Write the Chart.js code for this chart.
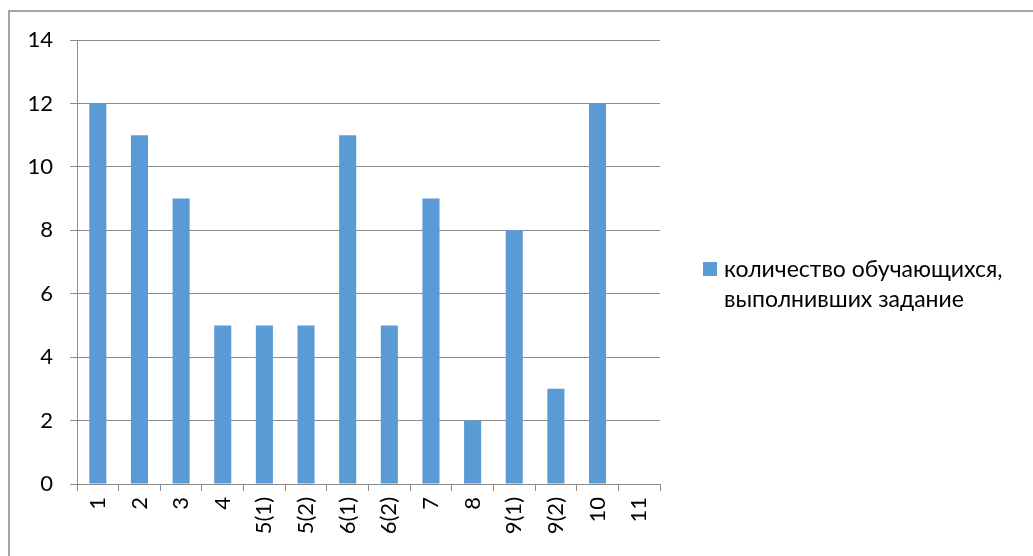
<!DOCTYPE html>
<html>
<head>
<meta charset="utf-8">
<script src="https://cdn.jsdelivr.net/npm/chart.js@4"></script>
<style>
  html, body { margin: 0; padding: 0; background: #fff; }
  #wrap { position: relative; width: 1033px; height: 556px; overflow: hidden; }
  #frame { position: absolute; left: 8px; top: 10px; width: 1100px; height: 600px;
           border: 2px solid #a6a6a6; box-sizing: border-box; }
  #legend { position: absolute; left: 703px; top: 253px; font-family: Lato, sans-serif;
            font-size: 23px; line-height: 30px; color: #000; }
  #legend .box { position: absolute; left: 0; top: 9px; width: 14px; height: 14px; background: #5b9bd5; }
  #legend .txt { margin-left: 21px; }
  canvas { position: absolute; left: 0; top: 0; }
</style>
</head>
<body>
<div id="wrap">
  <div id="frame"></div>
  <canvas id="chart" width="1033" height="556"></canvas>
  <div id="legend"><span class="box"></span><div class="txt">количество обучающихся,<br>выполнивших задание</div></div>
</div>
<script>
const categories = ["1", "2", "3", "4", "5(1)", "5(2)", "6(1)", "6(2)", "7", "8", "9(1)", "9(2)", "10", "11"];
const values = [12, 11, 9, 5, 5, 5, 11, 5, 9, 2, 8, 3, 12, null];
const seriesName = "количество обучающихся, выполнивших задание";
const yTicks = [0, 2, 4, 6, 8, 10, 12, 14];

const gridColor = "#8c8c8c";
const font = { family: "Lato, sans-serif", size: 22 };

const ctx = document.getElementById("chart").getContext("2d");
new Chart(ctx, {
  type: "bar",
  data: {
    labels: categories,
    datasets: [
      {
        label: seriesName,
        data: values,
        backgroundColor: "#5b9bd5",
        borderWidth: 0,
        categoryPercentage: 1,
        barPercentage: 0.41,
      },
    ],
  },
  options: {
    responsive: false,
    animation: false,
    layout: { padding: { left: 0, right: 373, top: 40, bottom: 0 } },
    plugins: { legend: { display: false }, tooltip: { enabled: false } },
    scales: {
      y: {
        min: 0,
        max: 14,
        afterBuildTicks: (scale) => {
          scale.ticks = yTicks.map((v) => ({ value: v }));
        },
        afterFit: (scale) => {
          scale.width = 77;
        },
        ticks: { color: "#000", font: font, padding: 17 },
        grid: { color: gridColor, tickLength: 7, lineWidth: 1 },
        border: { color: gridColor, width: 1 },
      },
      x: {
        afterFit: (scale) => {
          scale.height = 72;
        },
        ticks: { color: "#000", font: font, minRotation: 90, maxRotation: 90, padding: 6, autoSkip: false },
        grid: { drawOnChartArea: false, color: gridColor, tickLength: 7, offset: true },
        border: { color: gridColor, width: 1 },
      },
    },
  },
});
</script>
</body>
</html>
